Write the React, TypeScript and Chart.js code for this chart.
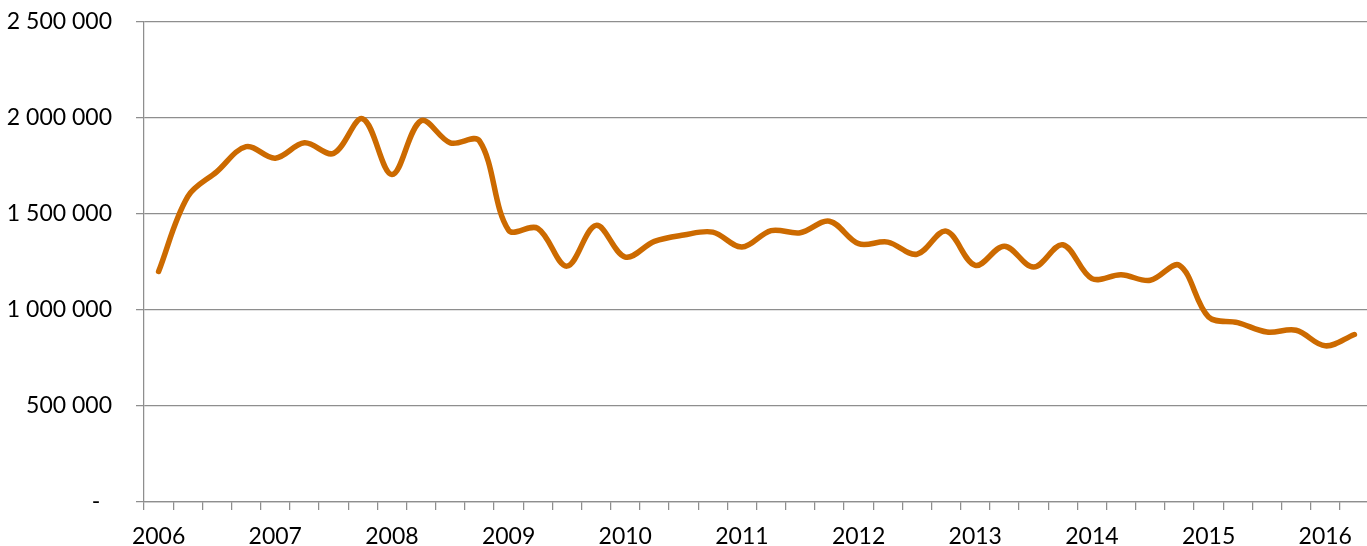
import React, { useEffect, useRef } from 'react';
import { Chart, registerables } from 'chart.js';

Chart.register(...registerables);

// quarterly figures, 2006 Q1 .. 2016 Q2
const years = ['2006', '2007', '2008', '2009', '2010', '2011', '2012', '2013', '2014', '2015', '2016'];
const quarters = ['Q1', 'Q2', 'Q3', 'Q4'];
const periods = years.flatMap(y => quarters.map(q => `${y} ${q}`)).slice(0, 42);

const values = [
  1200000, 1590000, 1720000, 1850000, 1790000, 1870000, 1815000, 1995000,
  1705000, 1985000, 1870000, 1880000, 1415000, 1425000, 1228000, 1440000,
  1275000, 1357000, 1390000, 1405000, 1327000, 1413000, 1402000, 1462000,
  1345000, 1353000, 1290000, 1410000, 1232000, 1332000, 1223000, 1339000,
  1163000, 1183000, 1154000, 1232000, 963000, 934000, 885000, 894000,
  813000, 872000,
];

const yMax = 2500000;
const yStep = 500000;

const GRID = '#8e8e8e';
const LINE = '#cc6a00';
const FONT = 'Lato, "Open Sans", sans-serif';

const fmt = (v: number) => (v === 0 ? '-  ' : String(v).replace(/\B(?=(\d{3})+(?!\d))/g, ' '));

// the chart area keeps ~37px at the top, the picture wants 21 -> pull the canvas up
const SHIFT = 16;

export default function App() {
  const canvasRef = useRef<HTMLCanvasElement>(null);
  const chartRef = useRef<Chart | null>(null);

  useEffect(() => {
    document.documentElement.style.overflow = 'hidden';
    document.body.style.margin = '0';
    document.body.style.overflow = 'hidden';

    if (!canvasRef.current) return;
    if (chartRef.current) chartRef.current.destroy();

    chartRef.current = new Chart(canvasRef.current, {
      type: 'line',
      data: {
        labels: periods,
        datasets: [
          {
            data: values,
            borderColor: LINE,
            borderWidth: 5.5,
            borderCapStyle: 'round',
            borderJoinStyle: 'round',
            tension: 0.35,
            pointRadius: 0,
            fill: false,
          },
        ],
      },
      options: {
        responsive: false,
        animation: false,
        layout: { padding: { top: 5, right: 3, left: 0, bottom: 0 } },
        plugins: {
          legend: { display: false },
          tooltip: { enabled: false },
        },
        scales: {
          x: {
            type: 'category',
            offset: true,
            afterFit: (axis: any) => {
              axis.height = 44;
            },
            grid: {
              offset: true,
              drawOnChartArea: false,
              drawTicks: true,
              tickLength: 8,
              color: GRID,
              lineWidth: 1.25,
            },
            border: { color: GRID, width: 1.25 },
            ticks: {
              autoSkip: false,
              maxRotation: 0,
              padding: 13,
              color: '#000',
              font: { family: FONT, size: 23 },
              callback: (_v: any, i: number) => (i % 4 === 0 ? years[i / 4] : ''),
            },
          },
          y: {
            min: 0,
            max: yMax,
            afterFit: (axis: any) => {
              axis.width = 144;
            },
            grid: {
              color: GRID,
              lineWidth: 1.25,
              drawTicks: true,
              tickLength: 8,
            },
            border: { color: GRID, width: 1.25 },
            ticks: {
              stepSize: yStep,
              padding: 24,
              color: '#000',
              font: { family: FONT, size: 23 },
              callback: (v: any) => fmt(Number(v)),
            },
          },
        },
      },
    });

    return () => {
      if (chartRef.current) {
        chartRef.current.destroy();
        chartRef.current = null;
      }
    };
  }, []);

  return (
    <div style={{ width: 1367, height: 546, overflow: 'hidden' }}>
      <canvas
        ref={canvasRef}
        width={1372}
        height={546 + SHIFT}
        style={{ display: 'block', marginTop: -SHIFT }}
      ></canvas>
    </div>
  );
}
